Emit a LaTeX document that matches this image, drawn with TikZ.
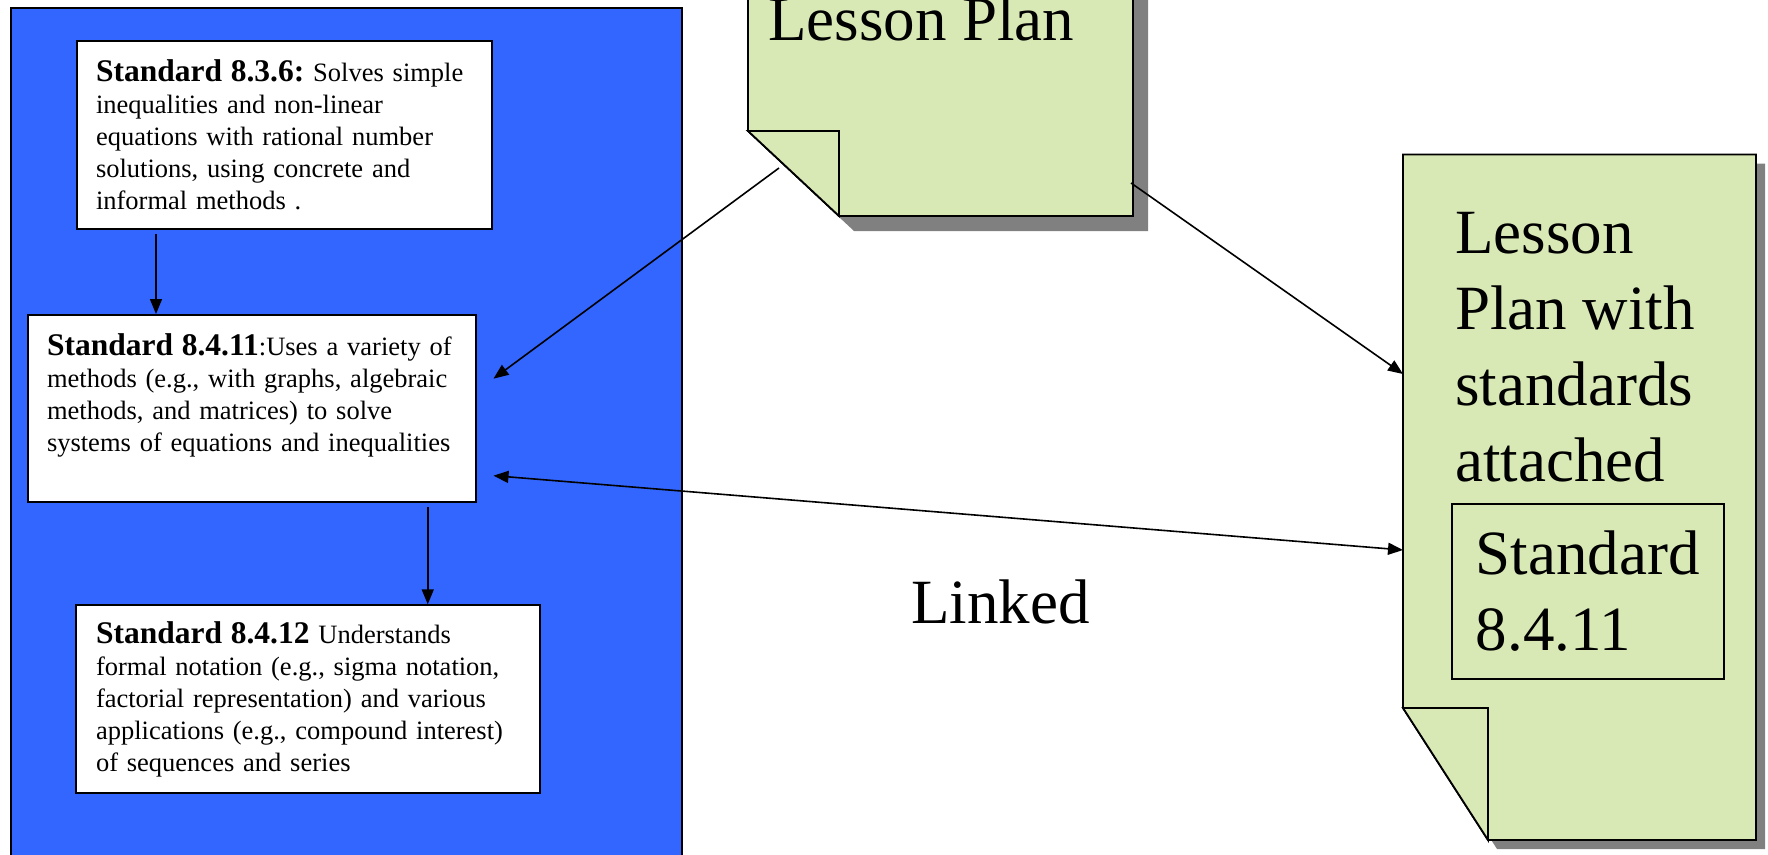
\documentclass[tikz,border=0pt]{standalone}
\usepackage{fontspec}
\setmainfont{Liberation Serif}
\usetikzlibrary{arrows.meta,positioning}

\definecolor{stdblue}{RGB}{51,102,255}
\definecolor{notegreen}{RGB}{216,233,182}
\definecolor{noteshade}{RGB}{128,128,128}

\newcommand{\stdtag}[1]{{\fontsize{31.5}{32}\selectfont\bfseries #1}}

\tikzset{
  stdbox/.style={draw, line width=2pt, fill=white, anchor=north west, align=left,
    inner ysep=0pt, font=\fontsize{26.5}{32}\selectfont\frenchspacing},
  arr/.style={-{Triangle[length=15pt,width=12pt]}, line width=1.6pt},
  twoway/.style={{Triangle[length=15pt,width=12pt]}-{Triangle[length=15pt,width=12pt]}, line width=1.6pt},
  note/.style={fill=notegreen, draw, line width=1.8pt, line join=miter},
  noteshadow/.style={fill=noteshade},
  bigtxt/.style={font=\fontsize{63}{76}\selectfont, inner sep=0pt, align=left},
}

\begin{document}
\begin{tikzpicture}[x=1pt,y=-1pt]
\useasboundingbox (0,0) rectangle (1768,854);

% panel of standards
\draw[fill=stdblue, line width=2.5pt] (11,8) rectangle (682,890);

\node[stdbox, text width=376pt, inner xsep=19.5pt, minimum height=188pt] (s836) at (75.5,40)
  {\stdtag{Standard 8.3.6:} Solves simple\\ inequalities and non-linear\\ equations with rational number\\ solutions, using concrete and\\ informal methods .};
\node[stdbox, text width=409.5pt, inner xsep=19pt, minimum height=187.3pt, text depth=128pt,
  below=84pt of s836.south west, anchor=north west, xshift=-48.5pt] (s8411)
  {\stdtag{Standard 8.4.11}:Uses a variety of\\ methods (e.g., with graphs, algebraic\\ methods, and matrices) to solve\\ systems of equations and inequalities};
\node[stdbox, text width=424pt, inner xsep=20pt, minimum height=188pt,
  below=101pt of s8411.south west, anchor=north west, xshift=48pt] (s8412)
  {\stdtag{Standard 8.4.12} Understands\\ formal notation (e.g., sigma notation,\\ factorial representation) and various\\ applications (e.g., compound interest)\\ of sequences and series};

\draw[arr] ([xshift=-128pt,yshift=-4pt]s836.south) -- ([xshift=-128pt]s836.south |- s8411.north);
\draw[arr] ([xshift=176pt,yshift=-4pt]s8411.south) -- ([xshift=176pt]s8411.south |- s8412.north);

% lesson plan note
\fill[noteshadow] (763,-40) -- (763,146) -- (854,231) -- (1148,231) -- (1148,-40) -- cycle;
\draw[note] (748,-40) -- (748,131) -- (839,216) -- (1133,216) -- (1133,-40) -- cycle;
\draw[note] (748,131) -- (839,131) -- (839,216) -- cycle;
\node[bigtxt, anchor=base west] (lptxt) at (768,40) {Lesson Plan};

% lesson plan with standards
\fill[noteshadow] (1412,163.5) -- (1412,717) -- (1497,849) -- (1765,849) -- (1765,163.5) -- cycle;
\draw[note] (1403,154.5) -- (1403,708) -- (1488,840) -- (1756,840) -- (1756,154.5) -- cycle;
\draw[note] (1403,708) -- (1488,708) -- (1488,840) -- cycle;
\node[bigtxt, anchor=north west] (lpwtxt) at (1455,212) {Lesson\\ Plan with\\ standards\\ attached};
\node[bigtxt, draw, line width=1.8pt, anchor=north west, inner xsep=24pt,
  minimum width=272pt, minimum height=175pt] (tag8411) at (1451,503) {Standard\\ 8.4.11};

\node[bigtxt, anchor=base west] (linked) at (911,623.6) {Linked};

\coordinate (lpfold) at (779,168);
\coordinate (lpedge) at (1131,183);
\coordinate (lpwin) at (1403,374);
\coordinate (lpwstd) at (1403,550);

\draw[arr] (lpfold) -- ([xshift=17pt,yshift=30pt]s8411.east);
\draw[arr] (lpedge) -- (lpwin);
\draw[twoway] ([xshift=17pt,yshift=-67pt]s8411.east) -- (lpwstd);
\end{tikzpicture}
\end{document}
